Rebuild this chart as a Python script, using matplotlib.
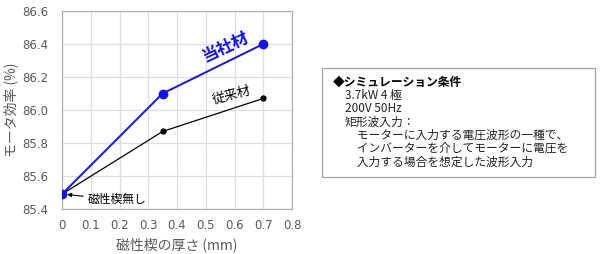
import matplotlib
matplotlib.use("Agg")
import matplotlib.pyplot as plt
from matplotlib.patches import Rectangle

plt.rcParams['font.family'] = ['Noto Sans CJK JP', 'DejaVu Sans']

# data
thickness = [0, 0.35, 0.7]
eff_ours = [85.49, 86.10, 86.40]
eff_conv = [85.49, 85.87, 86.07]
x_ticks = [0, 0.1, 0.2, 0.3, 0.4, 0.5, 0.6, 0.7, 0.8]
x_tick_labels = ["0", "0.1", "0.2", "0.3", "0.4", "0.5", "0.6", "0.7", "0.8"]
y_ticks = [85.4, 85.6, 85.8, 86.0, 86.2, 86.4, 86.6]
cond_lines = [
    "3.7kW 4 極",
    "200V 50Hz",
    "矩形波入力：",
    "　モーターに入力する電圧波形の一種で、",
    "　インバーターを介してモーターに電圧を",
    "　入力する場合を想定した波形入力",
]

W, H = 600, 254
fig = plt.figure(figsize=(6.0, 2.54), dpi=100)
ax = fig.add_axes([62 / W, 1 - 209 / H, (292 - 62) / W, (209 - 11) / H])

gray = "#595959"
blue = "#1010ff"
ax.plot(thickness, eff_conv, color="black", lw=0.9, marker="o", ms=3.5, zorder=3)
ax.plot(thickness, eff_ours, color=blue, lw=1.4, marker="o", ms=6, zorder=4)

ax.set_xlim(0, 0.8)
ax.set_ylim(85.4, 86.6)
ax.set_xticks(x_ticks)
ax.set_xticklabels(x_tick_labels, family=["DejaVu Sans"])
ax.set_yticks(y_ticks)
ax.set_yticklabels([f"{v:.1f}" for v in y_ticks], family=["DejaVu Sans"])
ax.grid(color="#dedede", lw=0.9)
ax.set_axisbelow(True)
ax.tick_params(length=0, colors=gray, labelsize=8.5)
ax.tick_params(axis="y", pad=10)
ax.tick_params(axis="x", pad=7)
for s in ax.spines.values():
    s.set_color("#b0b0b0")
    s.set_linewidth(0.9)

ax.set_xlabel("磁性楔の厚さ (mm)", color=gray, fontsize=10, labelpad=4)
ax.set_ylabel("モータ効率 (%)", color=gray, fontsize=10, labelpad=3)

ax.text(0.567, 86.38, "当社材", color=blue, fontsize=12, fontweight="bold",
        rotation=25, ha="center", va="center")
ax.text(0.59, 86.085, "従来材", color="black", fontsize=9.5,
        rotation=15, ha="center", va="center")
ax.annotate("磁性楔無し", xy=(0.008, 85.49), xytext=(0.088, 85.455),
            fontsize=8.5, color="black", va="center", ha="left",
            arrowprops=dict(arrowstyle="-|>", color="black", lw=0.8,
                            mutation_scale=6, shrinkA=1, shrinkB=2))

# condition box
bx0, by0, bx1, by1 = 322, 68, 595, 177
fig.patches.append(Rectangle((bx0 / W, 1 - by1 / H), (bx1 - bx0) / W, (by1 - by0) / H,
                             transform=fig.transFigure, fill=False,
                             edgecolor="#a6a6a6", lw=0.9))
fig.text(333 / W, 1 - 82 / H, "◆シミュレーション条件", fontsize=8.5, fontweight="bold",
         color="black", va="center", ha="left")
for i, line in enumerate(cond_lines):
    fig.text(345 / W, 1 - (82 + 13.3 * (i + 1)) / H, line, fontsize=8.5,
             color="#222222", va="center", ha="left")

fig.savefig("out.png", dpi=100)
